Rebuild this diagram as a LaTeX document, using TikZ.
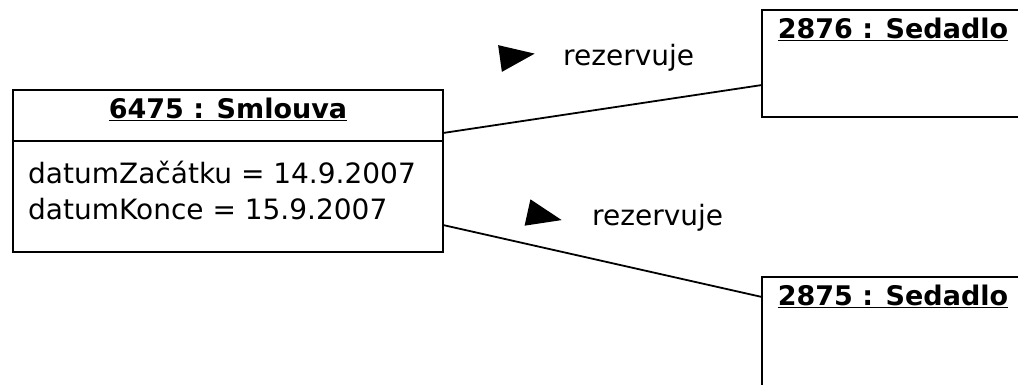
\documentclass[tikz,border=0pt]{standalone}
\usepackage{fontspec}
\setmainfont{DejaVu Sans}
\usetikzlibrary{positioning}

\tikzset{
  objhead/.style={draw, line width=1.8pt, minimum width=430pt, minimum height=51pt,
    inner sep=0pt, outer sep=0pt, text height=20pt, text depth=15pt,
    font=\fontsize{27}{34}\selectfont\bfseries},
  objbody/.style={draw, line width=1.8pt, minimum width=430pt, minimum height=111pt,
    outer sep=0pt},
  seatbox/.style={draw, line width=1.8pt, minimum width=262pt, inner sep=0pt, outer sep=0pt},
  objtitle/.style={inner sep=0pt, text height=20pt, text depth=6pt,
    font=\fontsize{27}{34}\selectfont\bfseries},
  attrtext/.style={inner sep=0pt, align=left, font=\fontsize{28}{36}\selectfont},
  rolelabel/.style={inner sep=0pt, font=\fontsize{28}{34}\selectfont},
  assoc/.style={line width=1.8pt},
}

\begin{document}
\begin{tikzpicture}[x=1pt, y=-1pt]

  \useasboundingbox (0,0) rectangle (1018,384);

  % Contract object
  \node[objhead, anchor=north west] (smlouvaHead) at (13,90) {\underline{6475 : Smlouva}};
  \node[objbody, below=0pt of smlouvaHead] (smlouvaBody) {};
  \node[attrtext, anchor=north west] (smlouvaAttrs)
    at ([xshift=15pt, yshift=-20pt]smlouvaBody.north west)
    {datumZačátku = 14.9.2007\\datumKonce = 15.9.2007};

  % Seat objects
  \node[seatbox, minimum height=107pt, anchor=north west] (sedadloA) at (762,10) {};
  \node[objtitle, below=8pt of sedadloA.north] (sedadloAtitle) {\underline{2876 : Sedadlo}};

  \node[seatbox, minimum height=120pt, anchor=north west] (sedadloB) at (762,277) {};
  \node[objtitle, below=8pt of sedadloB.north] (sedadloBtitle) {\underline{2875 : Sedadlo}};

  % Links
  \draw[assoc] ([yshift=-17.5pt]smlouvaHead.east) -- ([yshift=-21.5pt]sedadloA.west);
  \draw[assoc] ([yshift=-28.5pt]smlouvaBody.east) -- ([yshift=40pt]sedadloB.west);

  % Link names with reading direction
  \node[rolelabel, anchor=base west] (rezA) at (563,65) {rezervuje};
  \begin{scope}[shift={(500,58.5)}, rotate=8]
    \fill (0,-13.5) -- (35,0) -- (0,13.5) -- cycle;
  \end{scope}

  \node[rolelabel, anchor=base west] (rezB) at (592,225) {rezervuje};
  \begin{scope}[shift={(527.5,212.5)}, rotate=-12.5]
    \fill (0,-13.5) -- (35,0) -- (0,13.5) -- cycle;
  \end{scope}

\end{tikzpicture}
\end{document}
